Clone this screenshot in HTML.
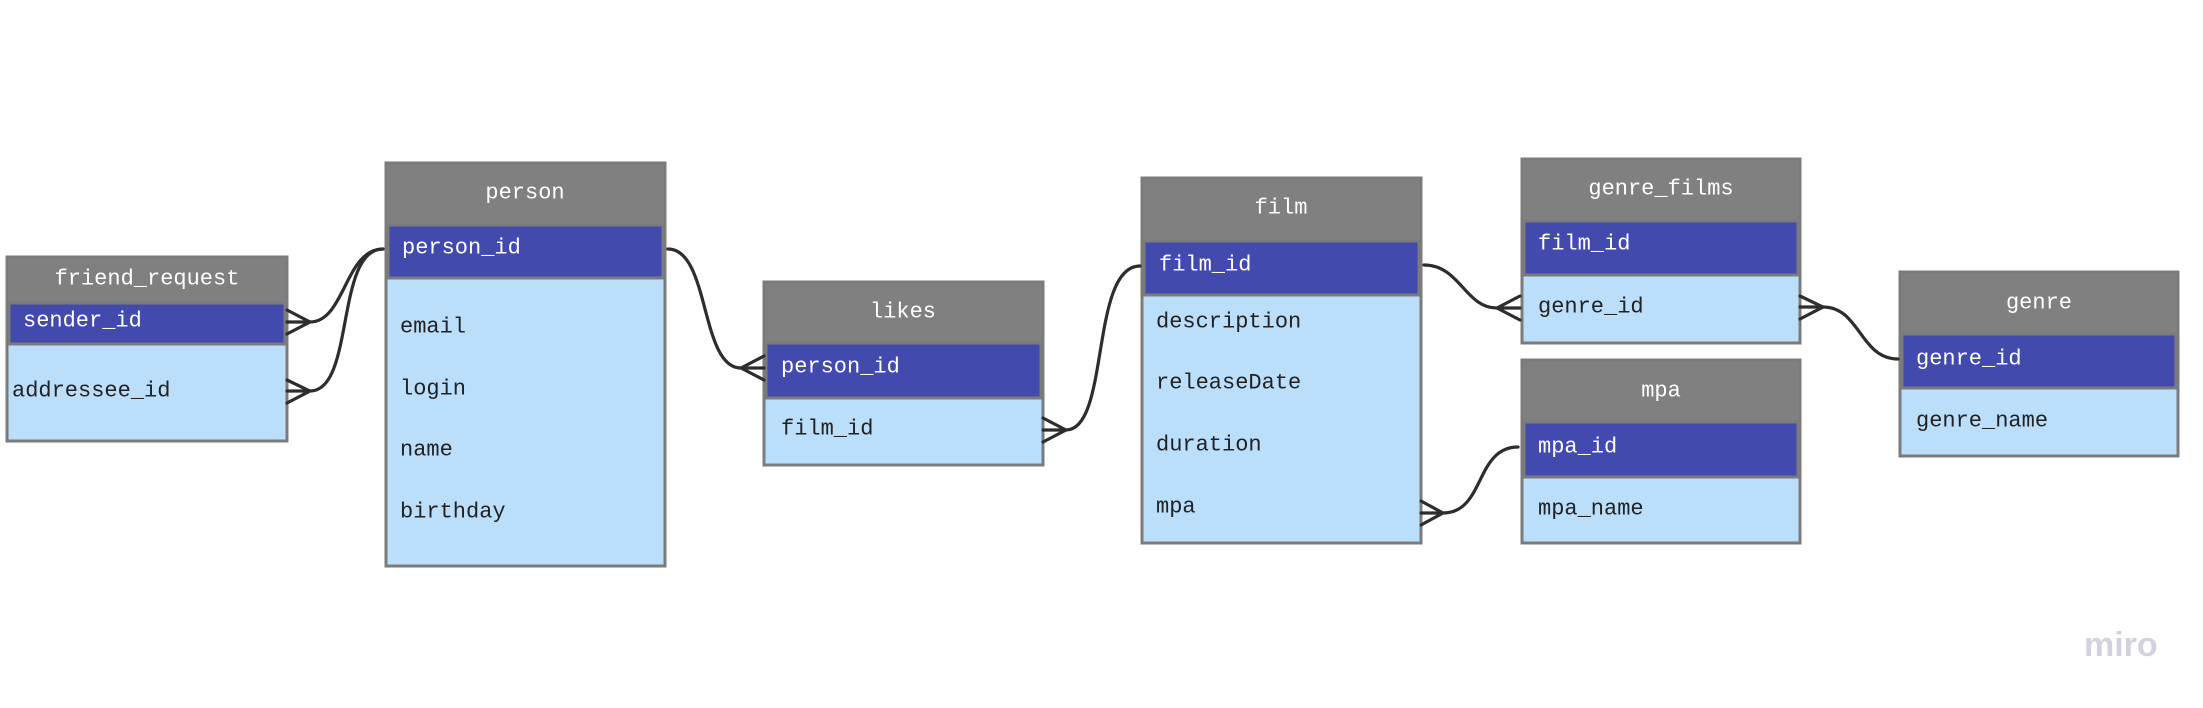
<!DOCTYPE html>
<html><head><meta charset="utf-8"><style>
html,body{margin:0;padding:0;background:#fff;}
svg{display:block;}
text{font-family:"Liberation Mono","DejaVu Sans Mono",monospace;font-size:22px;}
.h{fill:#fff;text-anchor:middle;}
.pk{fill:#fff;}
.f{fill:#222;}
</style></head><body>
<svg width="2203" height="708" viewBox="0 0 2203 708" xmlns="http://www.w3.org/2000/svg">
<g stroke="#7b7b7b" stroke-width="3">
<!-- friend_request -->
<rect x="7" y="257" width="280" height="184" fill="#bbdffb"/>
<rect x="7" y="257" width="280" height="46" fill="#808080"/>
<rect x="9" y="303" width="276" height="41" fill="#424aae"/>
<!-- person -->
<rect x="386" y="163" width="279" height="403" fill="#bbdffb"/>
<rect x="386" y="163" width="279" height="62" fill="#808080"/>
<rect x="388" y="225" width="275" height="53" fill="#424aae"/>
<!-- likes -->
<rect x="764" y="282" width="279" height="183" fill="#bbdffb"/>
<rect x="764" y="282" width="279" height="61" fill="#808080"/>
<rect x="766" y="343" width="275" height="55" fill="#424aae"/>
<!-- film -->
<rect x="1142" y="178" width="279" height="365" fill="#bbdffb"/>
<rect x="1142" y="178" width="279" height="63" fill="#808080"/>
<rect x="1144" y="241" width="275" height="54" fill="#424aae"/>
<!-- genre_films -->
<rect x="1522" y="159" width="278" height="184" fill="#bbdffb"/>
<rect x="1522" y="159" width="278" height="62" fill="#808080"/>
<rect x="1524" y="221" width="274" height="54" fill="#424aae"/>
<!-- mpa -->
<rect x="1522" y="360" width="278" height="183" fill="#bbdffb"/>
<rect x="1522" y="360" width="278" height="62" fill="#808080"/>
<rect x="1524" y="422" width="274" height="55" fill="#424aae"/>
<!-- genre -->
<rect x="1900" y="272" width="278" height="184" fill="#bbdffb"/>
<rect x="1900" y="272" width="278" height="62" fill="#808080"/>
<rect x="1902" y="334" width="274" height="54" fill="#424aae"/>
</g>
<g dominant-baseline="central">
<text class="h" x="147" y="279">friend_request</text>
<text class="pk" x="23" y="321">sender_id</text>
<text class="f" x="12" y="391">addressee_id</text>
<text class="h" x="525" y="193">person</text>
<text class="pk" x="402" y="248">person_id</text>
<text class="f" x="400" y="327">email</text>
<text class="f" x="400" y="389">login</text>
<text class="f" x="400" y="450">name</text>
<text class="f" x="400" y="512">birthday</text>
<text class="h" x="903" y="312">likes</text>
<text class="pk" x="781" y="367">person_id</text>
<text class="f" x="781" y="429">film_id</text>
<text class="h" x="1281" y="208">film</text>
<text class="pk" x="1159" y="265">film_id</text>
<text class="f" x="1156" y="322">description</text>
<text class="f" x="1156" y="383">releaseDate</text>
<text class="f" x="1156" y="445">duration</text>
<text class="f" x="1156" y="507">mpa</text>
<text class="h" x="1661" y="189">genre_films</text>
<text class="pk" x="1538" y="244">film_id</text>
<text class="f" x="1538" y="307">genre_id</text>
<text class="h" x="1661" y="391">mpa</text>
<text class="pk" x="1538" y="447">mpa_id</text>
<text class="f" x="1538" y="509">mpa_name</text>
<text class="h" x="2039" y="303">genre</text>
<text class="pk" x="1916" y="359">genre_id</text>
<text class="f" x="1916" y="421">genre_name</text>
</g>
<g fill="none" stroke="#2d2d2d" stroke-width="3.2" stroke-linecap="round">
<!-- friend sender -->
<path d="M287 310 L310 322 L287 334 M287 322 L310 322"/>
<path d="M310 322 C345 322 345 249 383 249"/>
<!-- friend addressee -->
<path d="M287 380 L310 391 L287 403 M287 391 L310 391"/>
<path d="M310 391 C355 391 335 249 383 249"/>
<!-- person -> likes -->
<path d="M668 249 C710 249 700 368 741 368"/>
<path d="M764 356 L741 368 L764 380 M764 368 L741 368"/>
<!-- likes film_id -> film -->
<path d="M1043 418 L1066 430 L1043 442 M1043 430 L1066 430"/>
<path d="M1066 430 C1110 430 1090 266 1140 266"/>
<!-- film -> genre_films -->
<path d="M1424 265 C1460 265 1465 308 1497 308"/>
<path d="M1520 296 L1497 308 L1520 320 M1520 308 L1497 308"/>
<!-- genre_films -> genre -->
<path d="M1800 296 L1823 307 L1800 319 M1800 307 L1823 307"/>
<path d="M1823 307 C1860 307 1860 359 1898 359"/>
<!-- film mpa -> mpa -->
<path d="M1421 501 L1443 513 L1421 525 M1421 513 L1443 513"/>
<path d="M1443 513 C1485 513 1475 447 1518 447"/>
</g>
<text x="2084" y="656" style="font-family:'Liberation Sans',sans-serif;font-size:34px;font-weight:bold;fill:#d2d2de;">miro</text>
</svg>
</body></html>
